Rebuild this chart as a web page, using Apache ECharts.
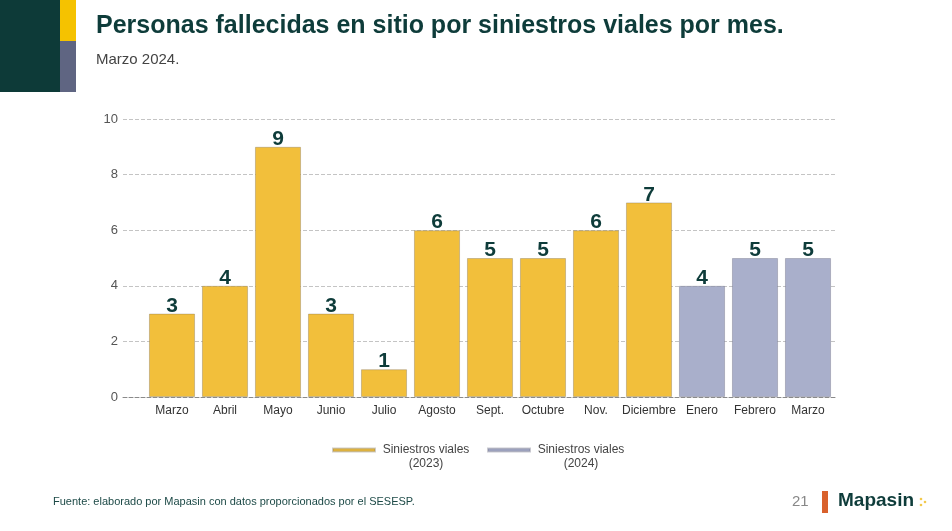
<!DOCTYPE html>
<html>
<head>
<meta charset="utf-8">
<script src="https://cdn.jsdelivr.net/npm/echarts@6/dist/echarts.min.js"></script>
<style>
html,body{margin:0;padding:0;background:#fff;}
#chart{width:952px;height:531px;}
</style>
</head>
<body>
<div id="chart"></div>
<script>
const categories = ['Marzo','Abril','Mayo','Junio','Julio','Agosto','Sept.','Octubre','Nov.','Diciembre','Enero','Febrero','Marzo'];
const values2023 = [3,4,9,3,1,6,5,5,6,7,null,null,null];
const values2024 = [null,null,null,null,null,null,null,null,null,null,4,5,5];
const yTicks = [0,2,4,6,8,10];

const FONT = '"Liberation Sans", Arial, Helvetica, sans-serif';
const TEAL = '#0E3C3A';
const chart = echarts.init(document.getElementById('chart'), null, {renderer:'canvas'});

const legendIcon = 'path://M0,0 M0,5.5h42v3h-42z M42,28';

const barLabel = {
  show: true, position: 'top', distance: -3,
  color: TEAL, fontFamily: FONT, fontWeight: 'bold', fontSize: 21
};

chart.setOption({
  backgroundColor: '#ffffff',
  animation: false,
  title: [{
    text: 'Personas fallecidas en sitio por siniestros viales por mes.',
    left: 96, top: 14, padding: 0,
    textStyle: {fontFamily: FONT, fontWeight: 'bold', fontSize: 25, color: TEAL},
    subtext: 'Marzo 2024.',
    subtextStyle: {fontFamily: FONT, fontSize: 15, color: '#444'},
    itemGap: 13
  }],
  grid: [
    {left: 123, right: 117, top: 119, bottom: 134},
    {left: 145.5, right: 117.5, top: 119, bottom: 134}
  ],
  xAxis: [
    {gridIndex: 0, type: 'category', data: [''], axisLine: {show: true, lineStyle: {color: '#8a8a8a', type: 'dashed', width: 1}},
     axisTick: {show: false}, axisLabel: {show: false}},
    {gridIndex: 1, type: 'category', data: categories, axisLine: {show: false}, axisTick: {show: false},
     axisLabel: {color: '#333', fontFamily: FONT, fontSize: 12, margin: 8, interval: 0}}
  ],
  yAxis: [
    {gridIndex: 0, type: 'value', min: 0, max: 10, interval: 2,
     axisLine: {show: false}, axisTick: {show: false},
     axisLabel: {color: '#555', fontFamily: FONT, fontSize: 13, margin: 5,
       formatter: v => yTicks.includes(v) ? String(v) : ''},
     splitLine: {show: true, lineStyle: {color: '#c4c4c4', type: 'dashed', width: 1}}},
    {gridIndex: 1, type: 'value', min: 0, max: 10, interval: 2, show: false, splitLine: {show: false}}
  ],
  legend: {
    left: 327, top: 437, itemGap: 15, itemWidth: 42, itemHeight: 28,
    icon: legendIcon,
    selectedMode: false,
    data: ['2023', '2024'],
    formatter: n => '{a|Siniestros viales}\n{a|(' + n + ')}',
    textStyle: {
      rich: {a: {width: 92, align: 'center', fontFamily: FONT, fontSize: 12, color: '#444', lineHeight: 14}}
    }
  },
  series: [
    {name: '2023', type: 'bar', xAxisIndex: 1, yAxisIndex: 1, stack: 'all', barCategoryGap: '13%',
     data: values2023,
     itemStyle: {color: '#F2BF3B', borderColor: 'rgba(120,110,90,0.35)', borderWidth: 1},
     label: barLabel},
    {name: '2024', type: 'bar', xAxisIndex: 1, yAxisIndex: 1, stack: 'all', barCategoryGap: '13%',
     data: values2024,
     itemStyle: {color: '#A9AFCB', borderColor: 'rgba(100,100,120,0.35)', borderWidth: 1},
     label: barLabel}
  ],
  graphic: [
    {type: 'rect', left: 0, top: 0, shape: {x: 0, y: 0, width: 60, height: 92}, style: {fill: '#0D3A38'}},
    {type: 'rect', left: 60, top: 0, shape: {x: 0, y: 0, width: 16, height: 41}, style: {fill: '#F5C200'}},
    {type: 'rect', left: 60, top: 41, shape: {x: 0, y: 0, width: 16, height: 51}, style: {fill: '#5F6582'}},
    {type: 'text', left: 53, top: 496, style: {text: 'Fuente: elaborado por Mapasin con datos proporcionados por el SESESP.', fontFamily: FONT, fontSize: 11, fill: '#1D4A47'}},
    {type: 'text', left: 792, top: 494, style: {text: '21', fontFamily: FONT, fontSize: 15, fill: '#888'}},
    {type: 'rect', left: 822, top: 491, shape: {x: 0, y: 0, width: 6, height: 22}, style: {fill: '#D9612C'}},
    {type: 'text', left: 838, top: 491, style: {text: 'Mapasin', fontFamily: FONT, fontSize: 19, fontWeight: 'bold', fill: TEAL}},
    {type: 'circle', shape: {cx: 921, cy: 499, r: 1.3}, style: {fill: '#F2C94C'}},
    {type: 'circle', shape: {cx: 921, cy: 505, r: 1.3}, style: {fill: '#F2C94C'}},
    {type: 'circle', shape: {cx: 925, cy: 502, r: 1.3}, style: {fill: '#F2C94C'}}
  ]
});
</script>
</body>
</html>
